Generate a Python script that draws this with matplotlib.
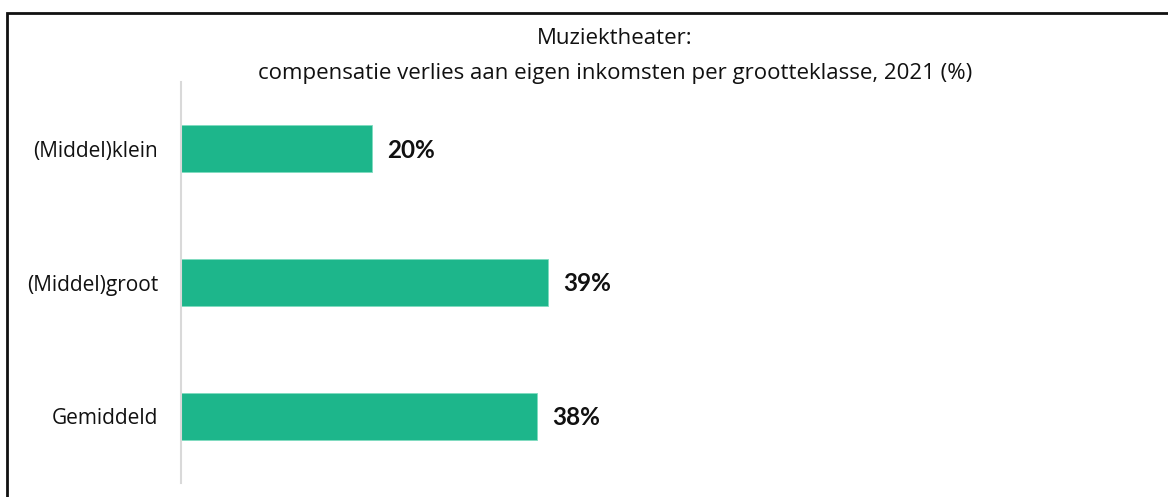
import matplotlib.pyplot as plt
from matplotlib.patches import Rectangle

categories = ['(Middel)klein', '(Middel)groot', 'Gemiddeld']
values = [20.3, 39.0, 37.8]
labels = ['20%', '39%', '38%']

plt.rcParams['font.family'] = ['Open Sans', 'DejaVu Sans']
fig = plt.figure(figsize=(11.68, 4.97), dpi=100)
W, H = 1168, 497
ax = fig.add_axes([181 / W, 1 - 483 / H, 960 / W, (483 - 82) / H])

bar_color = '#1DB68B'
y = list(range(len(categories)))
ax.barh(y, values, height=0.35, color=bar_color, edgecolor='#7fdcc0', linewidth=0.6)
for yi, v, lab in zip(y, values, labels):
    ax.text(v + 1.6, yi + 0.01, lab, va='center', ha='left', fontsize=17.5, fontweight='bold',
            family=['Lato', 'DejaVu Sans'], color='#111111')

ax.set_xlim(0, 960 / 9.42)
ax.set_ylim(2.5, -0.5)
ax.set_yticks(y)
ax.set_yticklabels(categories, fontsize=15, color='#111111')
ax.tick_params(axis='y', length=0, pad=16.5)
ax.set_xticks([])
for s in ['top', 'right', 'bottom']:
    ax.spines[s].set_visible(False)
ax.spines['left'].set_color('#d9d9d9')
ax.spines['left'].set_linewidth(1.5)

fig.text(615 / W, 1 - 38 / H, 'Muziektheater:', ha='center', va='center', fontsize=16, color='#111111')
fig.text(615 / W, 1 - 73 / H, 'compensatie verlies aan eigen inkomsten per grootteklasse, 2021 (%)',
         ha='center', va='center', fontsize=16, color='#111111')

# outer frame, cut off at right and bottom
fig.patches.append(Rectangle((7 / W, -0.1), 1.2, 1 - 13 / H + 0.1, transform=fig.transFigure,
                             fill=False, edgecolor='#111111', linewidth=2))

fig.savefig('out.png', dpi=100)
